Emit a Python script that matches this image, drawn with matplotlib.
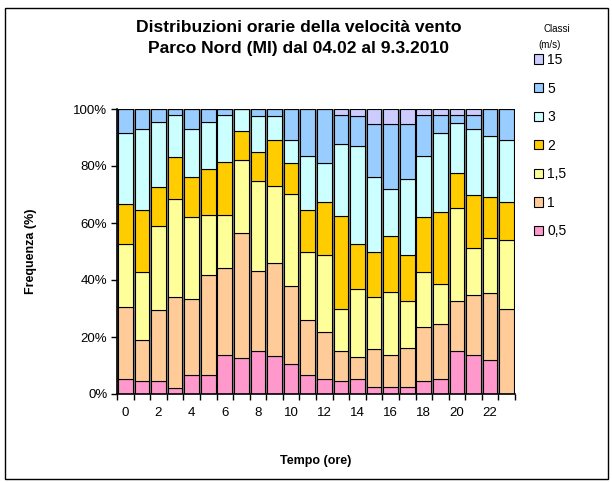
import numpy as np
import matplotlib
matplotlib.use("Agg")
import matplotlib.pyplot as plt
from matplotlib.patches import Patch, Rectangle

plt.rcParams['font.family'] = ['Liberation Sans', 'DejaVu Sans']

# ore del giorno
ore = list(range(24))

# frequenze (%) per classe di velocita (m/s)
v0_5 = [5.2, 4.5, 4.5, 2.2, 6.7, 6.7, 13.8, 12.7, 15.2, 13.4, 10.6, 6.7,
        5.3, 4.7, 5.3, 2.6, 2.6, 2.6, 4.5, 5.3, 15.0, 13.8, 11.8, 0.0]
v1 = [25.3, 14.5, 24.9, 31.8, 26.5, 35.2, 30.4, 43.9, 28.1, 32.7, 27.3, 19.4,
      16.3, 10.3, 7.8, 13.2, 11.2, 13.6, 18.9, 19.3, 17.5, 21.0, 23.7, 29.7]
v1_5 = [22.1, 23.9, 29.5, 34.3, 28.8, 20.8, 18.5, 25.6, 31.4, 26.8, 32.2, 23.8,
        27.2, 14.7, 23.6, 18.2, 22.1, 16.3, 19.5, 14.1, 32.7, 16.4, 19.2, 24.2]
v2 = [14.1, 21.5, 13.9, 14.7, 14.3, 16.4, 18.8, 10.1, 10.1, 16.3, 10.9, 14.5,
      18.7, 32.7, 15.9, 15.9, 19.6, 16.3, 19.1, 25.2, 12.4, 18.6, 14.4, 13.6]
v3 = [25.0, 28.7, 22.7, 14.9, 16.8, 16.4, 16.4, 7.7, 12.7, 8.3, 8.2, 19.0,
      13.5, 25.3, 34.4, 26.4, 16.6, 26.8, 21.4, 27.8, 17.4, 23.3, 21.5, 21.7]
v5 = [8.3, 6.9, 4.5, 2.1, 6.9, 4.5, 2.1, 0.0, 2.5, 2.5, 10.8, 16.6,
      19.0, 10.2, 10.5, 18.4, 22.6, 19.1, 14.5, 6.2, 2.9, 4.8, 9.4, 10.8]
v15 = [0, 0, 0, 0, 0, 0, 0, 0, 0, 0, 0, 0,
       0, 2.1, 2.5, 5.3, 5.3, 5.3, 2.1, 2.1, 2.1, 2.1, 0, 0]

classi = ['0,5', '1', '1,5', '2', '3', '5', '15']
serie = [v0_5, v1, v1_5, v2, v3, v5, v15]
colori = ['#FF99CC', '#FFCC99', '#FFFF99', '#FFCC00', '#CCFFFF', '#99CCFF', '#CCCCFF']

fig = plt.figure(figsize=(6.12, 4.82), dpi=100)
ax = fig.add_axes([117/612, 88/482, 398/612, 285/482])
ax.set_facecolor('#808080')  # sfondo grigio tra le barre

# barre impilate
base = np.zeros(len(ore))
for vals, col in zip(serie, colori):
    vals = np.array(vals, dtype=float)
    ax.bar(ore, vals, bottom=base, width=0.88, color=col,
           edgecolor='black', linewidth=0.8)
    base += vals

ax.set_xlim(-0.5, 23.5)
ax.set_ylim(0, 100)

# assi
ax.set_xticks(ore[::2])
ax.set_xticklabels([str(o) for o in ore[::2]], fontsize=9.5)
ax.tick_params(axis='x', which='major', length=0, pad=9)
ax.set_xticks(np.arange(-0.5, 24, 1), minor=True)
ax.tick_params(axis='x', which='minor', length=4, width=1)
ax.set_yticks(range(0, 101, 20))
ax.set_yticklabels([f'{v}%' for v in range(0, 101, 20)], fontsize=9.5)
ax.tick_params(axis='y', length=4, width=1, pad=3)
for s in ['top', 'right']:
    ax.spines[s].set_visible(False)
for s in ['left', 'bottom']:
    ax.spines[s].set_linewidth(1.2)

ax.set_xlabel('Tempo (ore)', fontsize=9, fontweight='bold', labelpad=26)
ax.set_ylabel('Frequenza (%)', fontsize=9, fontweight='bold', labelpad=26)

# titolo
fig.text(299/612, 1 - 38/482, 'Distribuzioni orarie della velocità vento\nParco Nord (MI) dal 04.02 al 9.3.2010',
         ha='center', va='center', fontsize=12.6, fontweight='bold', linespacing=1.45)

# legenda (ordine inverso)
handles = [Patch(facecolor=c, edgecolor='black', linewidth=0.8) for c in colori][::-1]
leg = fig.legend(handles, classi[::-1], loc='upper left',
                 bbox_to_anchor=(527/612, 1 - 46/482), frameon=False,
                 fontsize=10, handlelength=0.65, handleheight=0.65,
                 handletextpad=0.3, labelspacing=1.05, borderpad=0)
fig.text(543/612, 1 - 29/482, 'Classi', fontsize=7, ha='left', va='center')
fig.text(538/612, 1 - 45/482, '(m/s)', fontsize=7, ha='left', va='center')

# cornice esterna
fig.patches.append(Rectangle((5/612, 3/482), 603/612, 471/482, transform=fig.transFigure,
                             fill=False, edgecolor='black', linewidth=1))

fig.savefig('out.png', dpi=100)
